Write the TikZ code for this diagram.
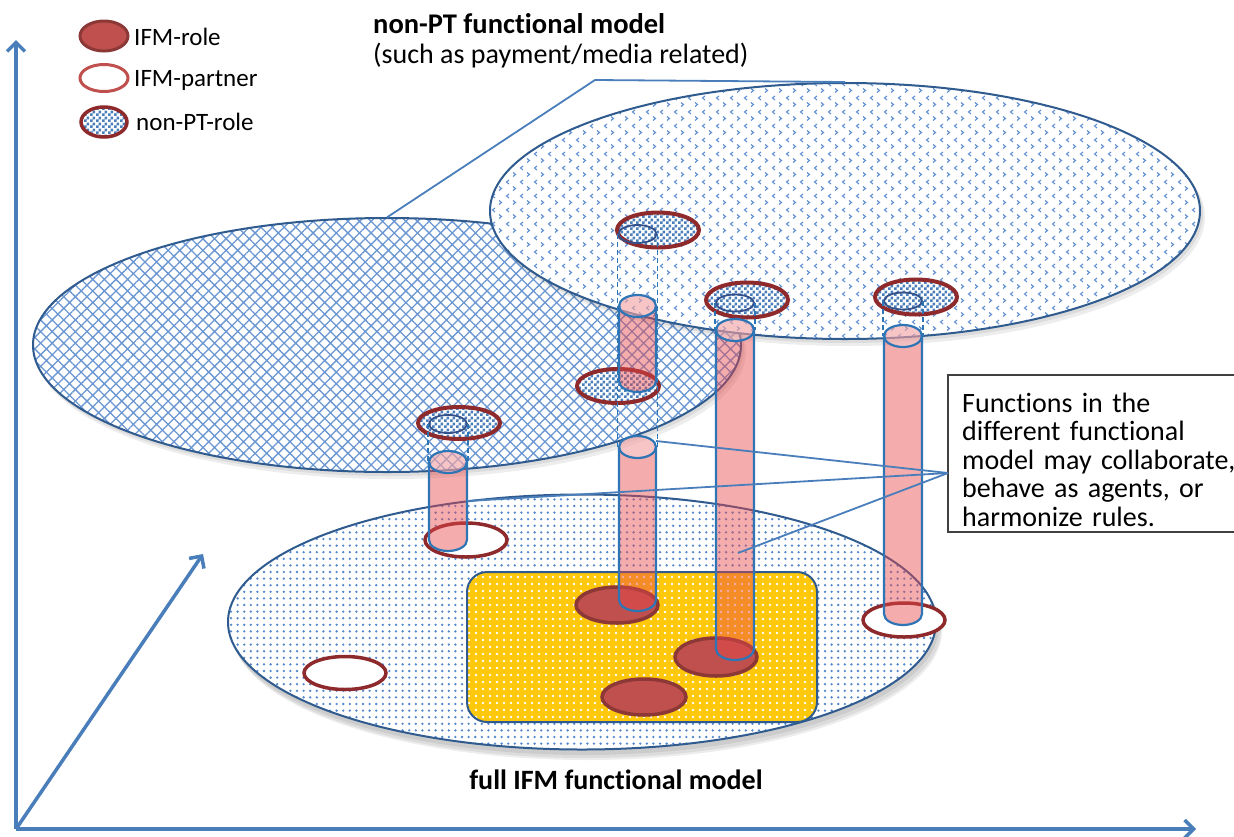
\documentclass[tikz,border=0pt]{standalone}
\usepackage{fontspec}
\setmainfont{Carlito}[Ligatures={NoCommon}]
\usetikzlibrary{shapes.geometric,patterns,patterns.meta,arrows.meta}

\definecolor{axisblue}{HTML}{4A7EBB}
\definecolor{planebd}{HTML}{2F5B8F}
\definecolor{dotblue}{HTML}{5487CC}
\definecolor{hatchblue}{HTML}{6A97D2}
\definecolor{chevblue}{HTML}{5F8FD0}
\definecolor{chkblue}{HTML}{4A7EBB}
\definecolor{cylblue}{HTML}{2E75B6}
\definecolor{cylred}{HTML}{E8474A}
\definecolor{rolefill}{HTML}{C0504D}
\definecolor{rolebd}{HTML}{8C3836}
\definecolor{ringbd}{HTML}{8E2A2C}
\definecolor{innerbd}{HTML}{34508A}
\definecolor{gold}{HTML}{FFC80A}
\definecolor{notebd}{HTML}{404040}

\pgfdeclarepatternformonly{checker}{\pgfpointorigin}{\pgfpoint{6pt}{6pt}}{\pgfpoint{6pt}{6pt}}{%
  \pgfpathrectangle{\pgfpointorigin}{\pgfpoint{3pt}{3pt}}%
  \pgfpathrectangle{\pgfpoint{3pt}{3pt}}{\pgfpoint{3pt}{3pt}}%
  \pgfusepath{fill}}
\pgfdeclarepatternformonly{chevrons}{\pgfpoint{-1pt}{-1pt}}{\pgfpoint{15pt}{15pt}}{\pgfpoint{14pt}{14pt}}{%
  \pgfsetlinewidth{1.1pt}%
  \pgfpathmoveto{\pgfpoint{5pt}{12pt}}\pgfpathlineto{\pgfpoint{2.5pt}{10pt}}\pgfpathlineto{\pgfpoint{5pt}{8pt}}%
  \pgfpathmoveto{\pgfpoint{9pt}{5.5pt}}\pgfpathlineto{\pgfpoint{11.5pt}{3.5pt}}\pgfpathlineto{\pgfpoint{9pt}{1.5pt}}%
  \pgfusepath{stroke}}

\newcommand\drawcyl[4]{%
  \pgfmathsetmacro\cylcx{(#1+#2)/2}%
  \pgfmathsetmacro\cylrx{(#2-#1)/2}%
  \path[cylbody] (#1,#3) arc[start angle=180,end angle=360,x radius=\cylrx,y radius=11] -- (#2,#4) arc[start angle=0,end angle=180,x radius=\cylrx,y radius=11] -- cycle;
  \fill[white,fill opacity=0.3] (\cylcx,#3) ellipse[x radius=\cylrx,y radius=11];
  \draw[cylline] (#1,#3) -- (#1,#4) arc[start angle=180,end angle=0,x radius=\cylrx,y radius=11] -- (#2,#3);
  \draw[cylline] (\cylcx,#3) ellipse[x radius=\cylrx,y radius=11];
}

\begin{document}
\begin{tikzpicture}[x=1pt,y=-1pt,
  axisline/.style={draw=axisblue, line width=3.5pt, -{Straight Barb[length=9pt,width=18pt]}},
  plane/.style={ellipse, draw=planebd, line width=2pt, inner sep=0pt, minimum width=708pt, minimum height=255pt},
  shade/.style={fill=black, fill opacity=0.07},
  role/.style={ellipse, draw=rolebd, fill=rolefill, line width=3.5pt, inner sep=0pt, minimum width=82pt, minimum height=36pt},
  partner/.style={ellipse, draw=ringbd, fill=white, line width=3.5pt, inner sep=0pt, minimum width=82pt, minimum height=34pt},
  ptring/.style={ellipse, draw=ringbd, line width=4pt, inner sep=0pt, minimum width=82pt, minimum height=34pt, preaction={fill=white}, pattern=checker, pattern color=chkblue},
  innerell/.style={ellipse, draw=innerbd, line width=1.8pt, inner sep=0pt, minimum width=38pt, minimum height=18pt},
  proj/.style={draw=cylblue, line width=1.6pt, dash pattern=on 5pt off 3pt},
  cylbody/.style={fill=cylred, fill opacity=0.45},
  cylline/.style={draw=cylblue, line width=2.2pt},
  leader/.style={draw=axisblue, line width=1.8pt},
  txt/.style={font=\fontsize{28}{28.5}\selectfont, inner sep=0pt},
  legtxt/.style={font=\fontsize{25}{28}\selectfont, inner sep=0pt, anchor=base west},
]
\useasboundingbox (0,0) rectangle (1234,836);

% axes
\coordinate (O) at (16,829);
\coordinate (Ytip) at (16,40);
\coordinate (Xtip) at (1196,829);
\coordinate (Ztip) at (203,554);
\draw[axisline] (O) -- (Ytip);
\draw[axisline] (O) -- (Xtip);
\draw[axisline] (O) -- (Ztip);

% bottom plane: full IFM functional model
\fill[shade] (584,626) ellipse[x radius=355,y radius=129];
\fill[shade] (586,629) ellipse[x radius=355,y radius=129];
\fill[shade] (587,631) ellipse[x radius=355,y radius=129];
\node[plane, preaction={fill=white}, pattern={Dots[distance=6.6pt,radius=1.3pt]}, pattern color=dotblue] (full) at (582,622) {};
\node[draw=planebd, line width=2pt, rounded corners=20pt, minimum width=350pt, minimum height=150pt, inner sep=0pt,
      preaction={fill=gold}, pattern={Dots[distance=7pt,radius=1.3pt]}, pattern color=white] (core) at (642,647) {};

\node[role] (r1) at (617,605) {};
\node[role, minimum height=38pt] (r2) at (716,657) {};
\node[role, minimum width=84pt] (r3) at (644,697) {};
\node[partner] (p1) at (466,540) {};
\node[partner, minimum height=33pt] (p2) at (345,673) {};
\node[partner] (p3) at (904,620) {};

% left upper plane
\fill[shade] (389,348) ellipse[x radius=355,y radius=128];
\fill[shade] (391,351) ellipse[x radius=355,y radius=128];
\node[plane, minimum height=254pt, preaction={fill=white}, pattern={Hatch[angle=45,distance=8.2pt,line width=1.3pt]}, pattern color=hatchblue] (planeL) at (387,345) {};
% right upper plane
\fill[shade] (847,214) ellipse[x radius=356,y radius=129];
\fill[shade] (849,217) ellipse[x radius=356,y radius=129];
\node[plane, minimum width=710pt, minimum height=256pt, preaction={fill=white}, pattern=chevrons, pattern color=chevblue] (planeR) at (845,211) {};

% non-PT roles
\node[ptring, minimum height=32pt] (n1) at (459,423) {};
\node[ptring] (n2) at (618,386) {};
\node[ptring, minimum height=35pt] (n3) at (658,230) {};
\node[ptring, minimum height=35pt] (n4) at (747,300) {};
\node[ptring, minimum height=35pt] (n5) at (916,297) {};
\node[innerell] (i1) at (448,424) {};
\node[innerell] (i3) at (637.5,234) {};
\node[innerell, minimum height=17pt] (i4) at (735,303) {};
\node[innerell, minimum height=17pt] (i5) at (903,301) {};

% cylinder tops
\coordinate (cA) at (448,462);
\coordinate (cB) at (637.5,447);
\coordinate (cD) at (735,330);
\coordinate (cE) at (903,336);

% projection lines
\draw[proj] (i1.west) -- (i1.west |- cA);
\draw[proj] (i1.east) -- (i1.east |- cA);
\draw[proj] (i3.west) -- (i3.west |- cB);
\draw[proj] (i3.east) -- (i3.east |- cB);
\draw[proj] (i4.west) -- (i4.west |- cD);
\draw[proj] (i4.east) -- (i4.east |- cD);
\draw[proj] (i5.west) -- (i5.west |- cE);
\draw[proj] (i5.east) -- (i5.east |- cE);

% cylinders
\drawcyl{429}{467}{462}{540}
\drawcyl{619}{656}{447}{600}
\drawcyl{619}{656}{306}{381}
\drawcyl{716}{754}{330}{649}
\drawcyl{884}{922}{336}{614}

% label for the non-PT planes
\node[txt, anchor=base west, font=\fontsize{28.5}{28.5}\selectfont\bfseries] (title) at (373,33) {non-PT functional model};
\node[txt, anchor=base west] (subtitle) at (373,63) {(such as payment/media related)};
\coordinate (bend) at (595,80);
\draw[leader] (planeL.north) -- (bend) -- (planeR.north);

% bottom label
\node[txt, anchor=base, font=\fontsize{28}{28.5}\selectfont\bfseries] (fulllbl) at (616,789) {full IFM functional model};

% note box
\path[draw=notebd, fill=white, line width=1.6pt] (1240,375) -- (948,375) -- (948,532) -- (1240,532);
\node[txt, anchor=base west, text width=290pt, align=left] (note) at (962,412)
  {Functions in the\\different functional\\model may collaborate,\\behave as agents, or\\harmonize rules.};
\coordinate (ptr) at (948,473);
\coordinate (tB) at (656,441);
\coordinate (sA) at (467,501);
\coordinate (sD) at (738,553);
\draw[leader] (ptr) -- (tB);
\draw[leader] (ptr) -- (sA);
\draw[leader] (ptr) -- (sD);

% legend
\node[role, line width=3pt, minimum width=48pt, minimum height=30pt] (lg1) at (104,36) {};
\node[partner, draw=rolefill, line width=3pt, minimum width=48pt, minimum height=27pt] (lg2) at (104,78) {};
\node[ptring, line width=3.5pt, minimum width=46pt, minimum height=30pt] (lg3) at (104,122) {};
\node[legtxt] (lt1) at (134,45) {IFM-role};
\node[legtxt] (lt2) at (134,86) {IFM-partner};
\node[legtxt] (lt3) at (136,130) {non-PT-role};
\end{tikzpicture}
\end{document}
